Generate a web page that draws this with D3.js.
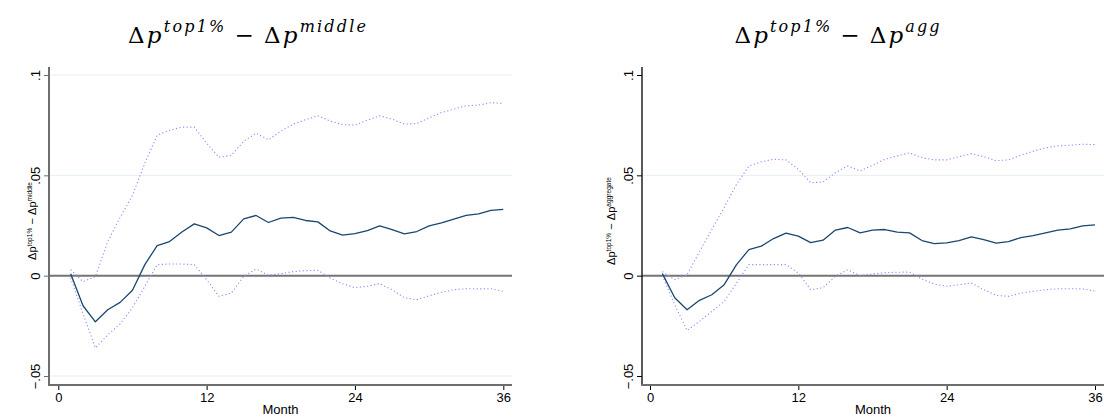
<!DOCTYPE html>
<html>
<head>
<meta charset="utf-8">
<script src="https://cdn.jsdelivr.net/npm/d3@7"></script>
<style>
  body { margin: 0; background: #fff; }
  svg { display: block; }
</style>
</head>
<body>
<div id="container"></div>
<script>
/* CONSTANTS AND GLOBALS */
const width = 1104, height = 418;

// months after the shock
const months = [1,2,3,4,5,6,7,8,9,10,11,12,13,14,15,16,17,18,19,20,21,22,23,24,25,26,27,28,29,30,31,32,33,34,35,36];

// top 1% minus middle
const midEst = [0.001,-0.015,-0.023,-0.017,-0.0133,-0.0073,0.0055,0.015,0.017,0.0218,0.0258,0.0238,0.020,0.0217,0.0283,0.030,0.0265,0.0287,0.029,0.0275,0.0268,0.0223,0.0202,0.021,0.0225,0.0248,0.023,0.0208,0.022,0.0248,0.0263,0.0282,0.030,0.0308,0.0325,0.033];
const midUpper = [0.003,-0.003,-0.0005,0.017,0.029,0.040,0.056,0.070,0.0725,0.074,0.074,0.066,0.059,0.060,0.067,0.071,0.0677,0.072,0.0755,0.0777,0.0797,0.077,0.0753,0.075,0.0775,0.0797,0.078,0.0755,0.0758,0.0787,0.0813,0.083,0.0847,0.085,0.0862,0.0858];
const midLower = [-0.001,-0.019,-0.036,-0.0295,-0.024,-0.016,-0.0053,0.0055,0.0058,0.0058,0.0055,-0.002,-0.0103,-0.0087,-0.0003,0.0033,0.0002,0.001,0.002,0.0025,0.0027,-0.0012,-0.004,-0.006,-0.0053,-0.004,-0.007,-0.011,-0.012,-0.010,-0.0083,-0.007,-0.0065,-0.0066,-0.0065,-0.0078];

// top 1% minus aggregate
const aggEst = [0.001,-0.011,-0.017,-0.0123,-0.0095,-0.0045,0.0055,0.013,0.0147,0.0185,0.0212,0.0197,0.0165,0.0177,0.0227,0.024,0.0213,0.0227,0.023,0.0217,0.0213,0.0175,0.016,0.0163,0.0175,0.0193,0.018,0.0162,0.017,0.019,0.020,0.0213,0.0227,0.0233,0.0248,0.0253];
const aggUpper = [0.002,-0.002,0.0005,0.012,0.023,0.034,0.0455,0.0547,0.0567,0.058,0.0577,0.053,0.0463,0.0467,0.0513,0.0547,0.0522,0.055,0.058,0.0597,0.0612,0.0588,0.0577,0.0577,0.0593,0.0608,0.0593,0.0573,0.0577,0.060,0.062,0.0637,0.0647,0.065,0.0655,0.0653];
const aggLower = [0.0,-0.0145,-0.0273,-0.0228,-0.0178,-0.0128,-0.0037,0.0055,0.0055,0.0055,0.0055,0.0013,-0.007,-0.006,-0.0003,0.003,0.0,0.0008,0.0015,0.0017,0.0018,-0.0017,-0.0042,-0.0053,-0.0045,-0.0037,-0.007,-0.0098,-0.0103,-0.0087,-0.0078,-0.007,-0.0065,-0.0065,-0.0066,-0.0077];

const xTicks = [0, 12, 24, 36];
const yTicks = [-0.05, 0, 0.05, 0.1];

const estColor = "#1a476f";
const ciColor = "#8c8cff";
const gridColor = "#e6eff0";

const svg = d3.select("#container")
  .append("svg")
  .attr("width", width)
  .attr("height", height);

const panels = [
  {
    est: midEst, upper: midUpper, lower: midLower,
    sup: "middle", ySup: "middle",
    axisX: 49, plotRight: 512, xRange: [58.3, 503.3],
    titleX: 247, titleLen: 238, yTitleX: 36, yTitleLen: 78,
    yAxisColor: "#6e6e6e", yAxisWidth: 2,
    grid: [-0.05, 0.05, 0.1]
  },
  {
    est: aggEst, upper: aggUpper, lower: aggLower,
    sup: "agg", ySup: "aggregate",
    axisX: 642, plotRight: 1104, xRange: [650, 1095],
    titleX: 837, titleLen: 205, yTitleX: 615, yTitleLen: 88,
    yAxisColor: "#000", yAxisWidth: 1.3,
    grid: [0.05]
  }
];

const plotTop = 67, plotBottom = 385;

panels.forEach(drawPanel);

function drawPanel(p) {
  const x = d3.scaleLinear().domain([0, 36]).range(p.xRange);
  const y = d3.scaleLinear().domain([-0.05, 0.1]).range([376, 75]);
  const g = svg.append("g");

  // light grid
  g.selectAll("line.grid")
    .data(p.grid)
    .join("line")
    .attr("class", "grid")
    .attr("x1", p.axisX).attr("x2", p.plotRight)
    .attr("y1", d => y(d)).attr("y2", d => y(d))
    .attr("stroke", gridColor)
    .attr("stroke-width", 1);

  // zero reference line
  g.append("line")
    .attr("x1", p.axisX).attr("x2", p.plotRight)
    .attr("y1", y(0)).attr("y2", y(0))
    .attr("stroke", "#747474")
    .attr("stroke-width", 2);

  const line = (vals) => d3.line()
    .x((d, i) => x(months[i]))
    .y(d => y(d))(vals);

  // confidence bands
  [p.upper, p.lower].forEach(vals => {
    g.append("path")
      .attr("d", line(vals))
      .attr("fill", "none")
      .attr("stroke", ciColor)
      .attr("stroke-width", 1.1)
      .attr("stroke-dasharray", "1.2,2.4");
  });

  // point estimates
  g.append("path")
    .attr("d", line(p.est))
    .attr("fill", "none")
    .attr("stroke", estColor)
    .attr("stroke-width", 1.3)
    .attr("stroke-linejoin", "round");

  // y axis
  const yAxis = d3.axisLeft(y)
    .tickValues(yTicks)
    .tickSize(5)
    .tickFormat(d => d === 0 ? "0" : (d < 0 ? "\u2212" : "") + d3.format(".2~f")(Math.abs(d)).replace(/^0/, ""));

  const yg = g.append("g")
    .attr("transform", `translate(${p.axisX},0)`)
    .call(yAxis);
  yg.select(".domain").remove();
  yg.selectAll(".tick line").attr("stroke", p.yAxisColor);
  yg.selectAll(".tick text")
    .attr("transform", "rotate(-90)")
    .attr("x", 0).attr("y", -9).attr("dy", 0)
    .attr("text-anchor", "middle")
    .attr("font-family", "Liberation Sans, Arial, sans-serif")
    .attr("font-size", 13)
    .attr("fill", "#000");

  g.append("line")
    .attr("x1", p.axisX).attr("x2", p.axisX)
    .attr("y1", plotTop).attr("y2", plotBottom)
    .attr("stroke", p.yAxisColor)
    .attr("stroke-width", p.yAxisWidth);

  // x axis
  const xAxis = d3.axisBottom(x).tickValues(xTicks).tickSize(5);
  const xg = g.append("g")
    .attr("transform", `translate(0,${plotBottom})`)
    .call(xAxis);
  xg.select(".domain").remove();
  xg.selectAll(".tick line").attr("stroke", "#000");
  xg.selectAll(".tick text")
    .attr("y", 8).attr("dy", "0.71em")
    .attr("font-family", "Liberation Sans, Arial, sans-serif")
    .attr("font-size", 13)
    .attr("fill", "#000");

  g.append("line")
    .attr("x1", p.axisX - 1).attr("x2", p.plotRight)
    .attr("y1", plotBottom).attr("y2", plotBottom)
    .attr("stroke", "#6e6e6e")
    .attr("stroke-width", 2);

  g.append("text")
    .attr("x", (p.axisX + p.plotRight) / 2)
    .attr("y", 414)
    .attr("text-anchor", "middle")
    .attr("font-family", "Liberation Sans, Arial, sans-serif")
    .attr("font-size", 13)
    .text("Month");

  // y axis title
  const yt = g.append("text")
    .attr("transform", `translate(${p.yTitleX},${(plotTop + plotBottom) / 2 - 5}) rotate(-90)`)
    .attr("text-anchor", "middle")
    .attr("textLength", p.yTitleLen)
    .attr("lengthAdjust", "spacing")
    .attr("font-family", "Liberation Sans, Arial, sans-serif")
    .attr("font-size", 11);
  yt.append("tspan").text("\u0394p");
  yt.append("tspan").attr("dy", -4).attr("font-size", 6.5).text("top1%");
  yt.append("tspan").attr("dy", 4).text(" \u2212 \u0394p");
  yt.append("tspan").attr("dy", -4).attr("font-size", 6.5).text(p.ySup);

  // panel title, math-style
  const tt = g.append("text")
    .attr("x", p.titleX)
    .attr("y", 43)
    .attr("text-anchor", "middle")
    .attr("textLength", p.titleLen)
    .attr("lengthAdjust", "spacing")
    .attr("font-family", "DejaVu Serif, serif")
    .attr("font-size", 23);
  tt.append("tspan").text("\u0394");
  tt.append("tspan").attr("font-style", "italic").text("p");
  tt.append("tspan").attr("dy", -11).attr("font-size", 16).attr("font-style", "italic").text("top1%");
  tt.append("tspan").attr("dy", 11).attr("dx", 8).text("\u2212");
  tt.append("tspan").attr("dx", 8).text("\u0394");
  tt.append("tspan").attr("font-style", "italic").text("p");
  tt.append("tspan").attr("dy", -11).attr("font-size", 16).attr("font-style", "italic").text(p.sup);
}
</script>
</body>
</html>
